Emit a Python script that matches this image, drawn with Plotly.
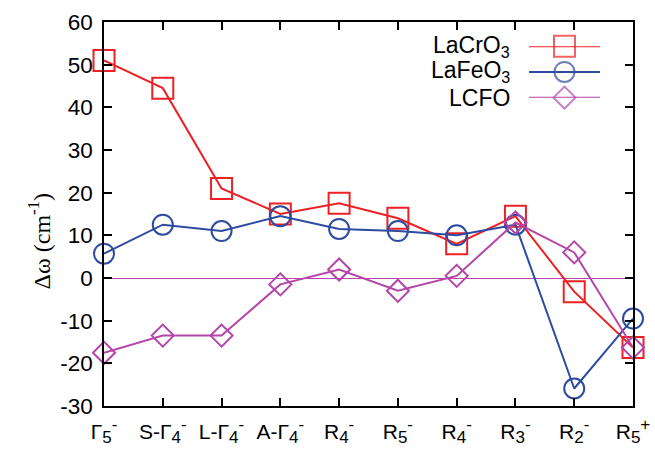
import plotly.graph_objects as go

def lab(base, sub, sup):
    return (base + "<sub><span style='font-size:17px'>" + sub + "</span></sub>"
            + "<sup><span style='font-size:17px'>" + sup + "</span></sup>")

cat_base = ["Γ", "S-Γ", "L-Γ", "A-Γ", "R", "R", "R", "R", "R", "R"]
cat_sub = ["5", "4", "4", "4", "4", "5", "4", "3", "2", "5"]
cat_sup = ["-", "-", "-", "-", "-", "-", "-", "-", "-", "+"]
categories = [lab(b, s, p) for b, s, p in zip(cat_base, cat_sub, cat_sup)]
lacro3 = [51, 44.5, 21, 15, 17.5, 14, 8, 14.5, -3.2, -16.3]
lafeo3 = [5.7, 12.5, 11, 14.5, 11.5, 11, 10, 12.5, -25.9, -9.5]
lcfo = [-17.5, -13.5, -13.5, -1.5, 2, -3, 0.5, 13, 6, -16.3]
series_names = ["LaCrO<sub>3</sub>", "LaFeO<sub>3</sub>", "LCFO"]
y_ticks = [-30, -20, -10, 0, 10, 20, 30, 40, 50, 60]
y_ticktext = [str(v) for v in y_ticks]  # plain hyphen minus as in reference

colors = ["rgb(237,32,36)", "rgb(45,75,160)", "rgb(180,70,170)"]
symbols = ["square-open", "circle-open", "diamond-open"]
sizes = [21, 20, 17]

xi = list(range(len(categories)))
fig = go.Figure()
for vals, c, s, sz in zip([lacro3, lafeo3, lcfo], colors, symbols, sizes):
    fig.add_trace(go.Scatter(x=xi, y=vals, mode="lines+markers", cliponaxis=False,
                             line=dict(color=c, width=2),
                             marker=dict(symbol=s, size=sz, color=c, line=dict(color=c, width=2)),
                             showlegend=False))

# custom legend (text left, sample right), drawn in a hidden helper axis
leg_rows = [2, 1, 0]
leg_paper_y = [0.937, 0.870, 0.803]
for name, c, s, sz, r, py in zip(series_names, colors, symbols, sizes, leg_rows, leg_paper_y):
    fig.add_trace(go.Scatter(x=[0, 0.5, 1], y=[r, r, r], mode="lines+markers",
                             xaxis="x2", yaxis="y2", cliponaxis=False,
                             line=dict(color=c, width=2),
                             marker=dict(symbol=s, size=[0, sz, 0], color=c,
                                         line=dict(color=c, width=2)),
                             showlegend=False, hoverinfo="skip"))
    fig.add_annotation(x=0.772, y=py, xref="paper", yref="paper", text=name, showarrow=False,
                       xanchor="right", yanchor="middle",
                       font=dict(family="Liberation Sans, Arial", size=23, color="black"))

fig.add_annotation(x=-0.121, y=0.431, xref="paper", yref="paper", text="Δω (cm<sup>-1</sup>)",
                   showarrow=False, textangle=-90, xanchor="center", yanchor="middle",
                   font=dict(family="Liberation Serif, Times New Roman", size=24, color="black"))

fig.update_layout(
    width=655, height=451,
    margin=dict(l=104, r=22, t=22, b=45),
    paper_bgcolor="white", plot_bgcolor="white",
    font=dict(family="Liberation Sans, Arial", size=20, color="black"),
    xaxis=dict(range=[0, 9], tickmode="array", tickvals=xi, ticktext=categories,
               showgrid=False, zeroline=False, showline=True, linecolor="black", linewidth=1.5,
               mirror="allticks", ticks="inside", ticklen=8, tickcolor="black", tickwidth=1.5,
               ticklabelstandoff=6, tickfont=dict(size=21), automargin=False),
    yaxis=dict(range=[-30, 60], tickmode="array", tickvals=y_ticks, ticktext=y_ticktext,
               showgrid=False,
               zeroline=True, zerolinecolor=colors[2], zerolinewidth=1,
               showline=True, linecolor="black", linewidth=1.5,
               mirror="allticks", ticks="inside", ticklen=8, tickcolor="black", tickwidth=1.5,
               ticklabelstandoff=5, tickfont=dict(size=22.5), automargin=False),
    xaxis2=dict(domain=[0.803, 0.938], range=[0, 1], visible=False, anchor="y2"),
    yaxis2=dict(domain=[0.803, 0.937], range=[0, 2], visible=False, anchor="x2"),
)

fig.write_html("out.html")
